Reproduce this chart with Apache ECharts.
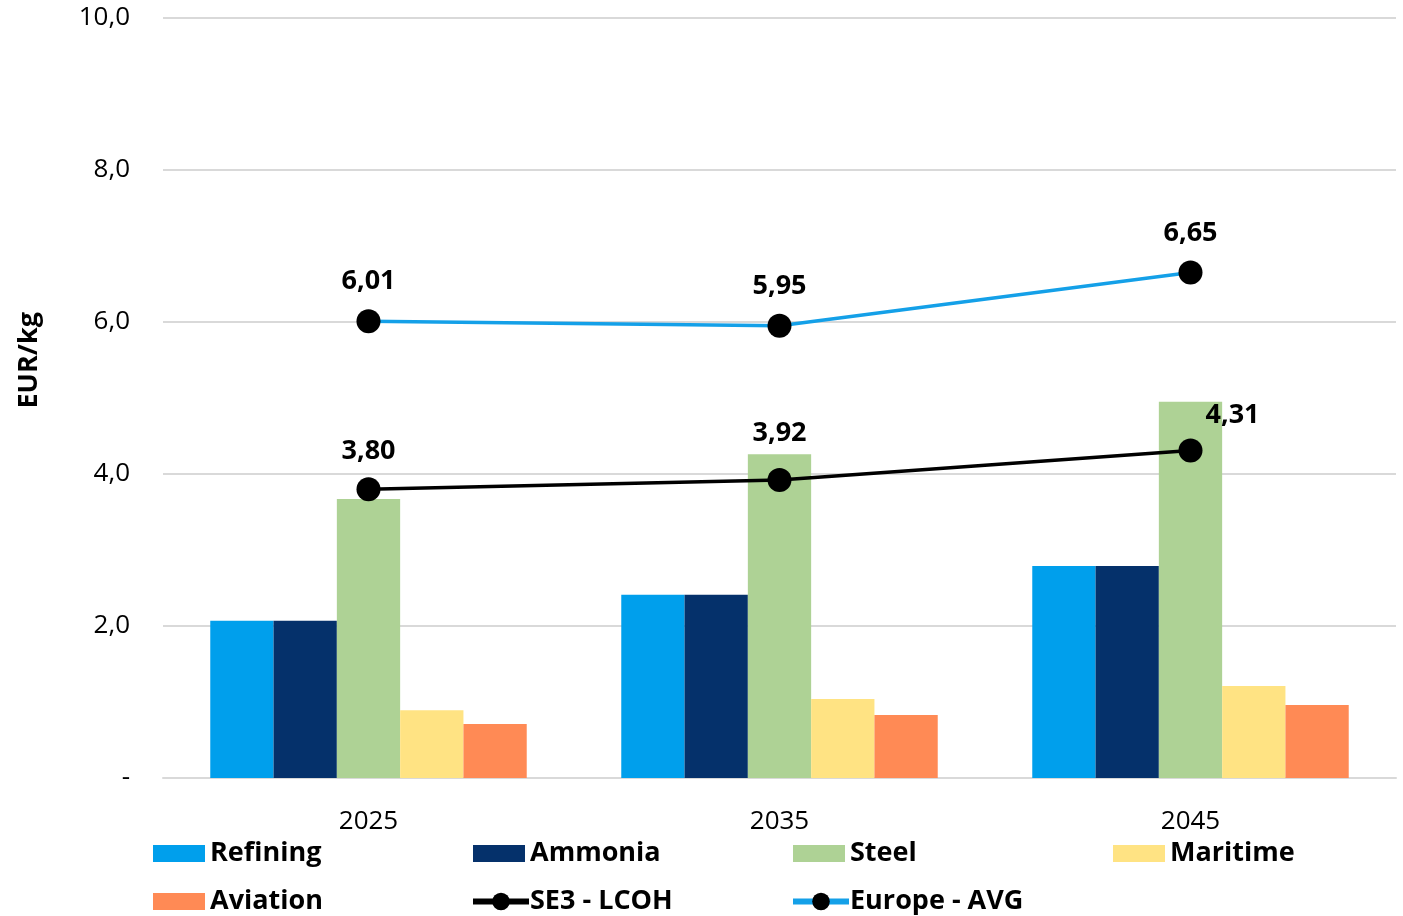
<!DOCTYPE html>
<html>
<head>
<meta charset="utf-8">
<script src="https://cdn.jsdelivr.net/npm/echarts@6/dist/echarts.min.js"></script>
<style>
  html, body { margin: 0; padding: 0; background: #fff; }
  #chart { width: 1403px; height: 916px; }
</style>
</head>
<body>
<div id="chart"></div>
<script>
// Hydrogen cost by sector and year (EUR/kg)
const years = ['2025', '2035', '2045'];
const refining = [2.07, 2.41, 2.79];
const ammonia = [2.07, 2.41, 2.79];
const steel = [3.67, 4.26, 4.95];
const maritime = [0.89, 1.04, 1.21];
const aviation = [0.71, 0.83, 0.96];
const se3Lcoh = [3.80, 3.92, 4.31];
const europeAvg = [6.01, 5.95, 6.65];
const yTicks = [0, 2, 4, 6, 8, 10];

const FONT = '"Open Sans", Lato, sans-serif';
const fmt = v => v.toFixed(2).replace('.', ',');

const chart = echarts.init(document.getElementById('chart'));

function barSeries(name, data, color) {
  return {
    name, type: 'bar', data,
    barGap: '0%', barCategoryGap: '23%',
    itemStyle: { color },
    z: 1
  };
}

function lineSeries(name, data, color, labelTweaks) {
  return {
    name, type: 'line', data: data.map((v, i) => {
      const d = { value: v };
      if (labelTweaks && labelTweaks[i]) d.label = labelTweaks[i];
      return d;
    }),
    symbol: 'circle', symbolSize: 24,
    lineStyle: { color, width: 3.5 },
    itemStyle: { color: '#000' },
    label: {
      show: true, position: 'top', distance: 14,
      formatter: p => fmt(p.value),
      fontFamily: FONT, fontWeight: 'bold', fontSize: 27, color: '#000'
    },
    z: 5
  };
}

// one legend block per entry so the columns line up on a fixed grid
const legendCols = [153, 473, 793, 1113];
const legendRows = [840, 888];
const legendNames = ['Refining', 'Ammonia', 'Steel', 'Maritime', 'Aviation', 'SE3 - LCOH', 'Europe - AVG'];
const legends = legendNames.map((n, i) => {
  const isBar = i < 5;
  return {
    data: [{ name: n, icon: isBar ? 'rect' : undefined }],
    left: isBar ? legendCols[i % 4] : legendCols[i % 4] - 3,
    top: legendRows[Math.floor(i / 4)],
    itemWidth: isBar ? 52 : 56, itemHeight: isBar ? 17 : 22, itemGap: 4,
    padding: 0,
    lineStyle: { width: 6 },
    textStyle: {
      fontFamily: FONT, fontWeight: 'bold', fontSize: 27, color: '#000',
      padding: isBar ? [0, 0, 0, 0] : [0, 0, 0, -4]
    }
  };
});

chart.setOption({
  animation: false,
  backgroundColor: '#fff',
  grid: { left: 163, right: 7, top: 18, bottom: 138 },
  legend: legends,
  xAxis: {
    type: 'category', data: years,
    axisLine: { lineStyle: { color: '#d9d9d9', width: 2 } },
    axisTick: { show: false },
    axisLabel: { fontFamily: FONT, fontSize: 26, color: '#000', margin: 31 }
  },
  yAxis: {
    type: 'value', min: yTicks[0], max: yTicks[yTicks.length - 1], interval: 2,
    axisLine: { show: false },
    axisTick: { show: false },
    splitLine: { lineStyle: { color: '#d9d9d9', width: 2 } },
    axisLabel: {
      fontFamily: FONT, fontSize: 26, color: '#000', margin: 33,
      formatter: v => v === 0 ? '-' : v.toFixed(1).replace('.', ',')
    }
  },
  graphic: [{
    type: 'text', left: 16, top: 312, rotation: Math.PI / 2,
    style: { text: 'EUR/kg', fontFamily: FONT, fontWeight: 'bold', fontSize: 27, fill: '#000' }
  }],
  series: [
    barSeries('Refining', refining, '#009FEC'),
    barSeries('Ammonia', ammonia, '#05316B'),
    barSeries('Steel', steel, '#AED295'),
    barSeries('Maritime', maritime, '#FFE383'),
    barSeries('Aviation', aviation, '#FF8A55'),
    lineSeries('SE3 - LCOH', se3Lcoh, '#000', [
      { position: 'top', offset: [0, 2] },
      { position: 'top', offset: [0, -7] },
      { position: 'top', offset: [42, 4] }
    ]),
    lineSeries('Europe - AVG', europeAvg, '#14A0E8')
  ]
});
</script>
</body>
</html>
